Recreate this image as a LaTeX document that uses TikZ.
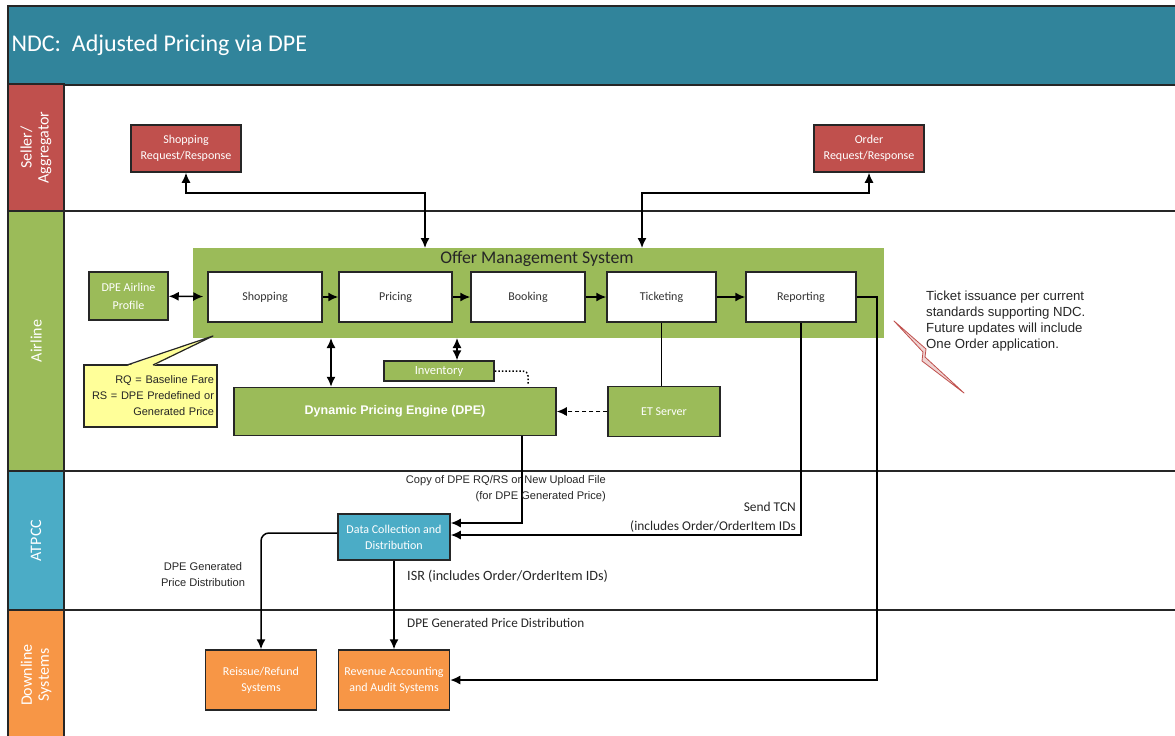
\documentclass[tikz,border=0pt]{standalone}
\usepackage{fontspec}
\setmainfont{Carlito}
\newfontfamily\arialfont{Liberation Sans}
\usepackage{tikz}
\usetikzlibrary{positioning}
\usetikzlibrary{arrows.meta}
\definecolor{ndcteal}{HTML}{31849B}
\definecolor{ndcred}{HTML}{C0504D}
\definecolor{ndcgreen}{HTML}{9BBB59}
\definecolor{ndcblue}{HTML}{4BACC6}
\definecolor{ndcorange}{HTML}{F79646}
\definecolor{ndcyellow}{HTML}{FFFF99}
\definecolor{ndcedge}{HTML}{262626}

\begin{document}
\begin{tikzpicture}[x=1pt,y=-1pt,>={Latex[length=10pt,width=9pt]},
  lanehead/.style={draw=ndcedge,line width=1.5pt,fill=#1,rotate=90,minimum height=56pt,
    text=white,align=center,inner sep=0pt,font=\fontsize{16}{17}\selectfont},
  sysbox/.style={draw=ndcedge,line width=1.5pt,fill=#1,text=white,align=center,
    inner sep=0pt,font=\fontsize{12}{16}\selectfont},
  procbox/.style={draw=ndcedge,line width=1.5pt,fill=white,text=black!80,minimum height=50pt,
    inner sep=0pt,font=\fontsize{12}{14}\selectfont},
  laneline/.style={line width=2pt,ndcedge},
  flow/.style={line width=1.5pt,black},
  lbl/.style={inner sep=0pt,text=black!85,font=\fontsize{13.4}{19}\selectfont},
  arlbl/.style={inner sep=0pt,text=black!85,font=\arialfont\fontsize{11.1}{16}\selectfont}]
\useasboundingbox (0,0) rectangle (1175,736);
\clip (0,0) rectangle (1175,736);

% title and lanes
\node[draw=ndcedge,line width=1.5pt,fill=ndcteal,anchor=north west,inner sep=0pt,
  minimum width=1175pt,minimum height=79pt] (titlebar) at (7,5) {};
\node[anchor=west,text=white,font=\fontsize{24}{26}\selectfont] (title) at (8,45) {NDC:\ \ Adjusted Pricing via DPE};

\node[lanehead=ndcred,minimum width=127pt] (seller) at (36,147.5) {Seller/\\Aggregator};
\node[lanehead=ndcgreen,minimum width=260pt] (airline) at (36,341) {Airline};
\node[lanehead=ndcblue,minimum width=139pt] (atpcc) at (36,540.5) {ATPCC};
\node[lanehead=ndcorange,minimum width=130pt] (downline) at (36,675) {Downline\\Systems};
\draw[laneline] (64,211) -- (1180,211);
\draw[laneline] (64,471) -- (1180,471);
\draw[laneline] (64,610) -- (1180,610);

% seller / aggregator
\node[sysbox=ndcred,minimum width=110pt,minimum height=47pt] (shopRR) at (186,148.5) {Shopping\\Request/Response};
\node[sysbox=ndcred,minimum width=110pt,minimum height=47pt] (orderRR) at (869,148.5) {Order\\Request/Response};

% airline
\node[fill=ndcgreen,minimum width=691pt,minimum height=90pt,inner sep=0pt] (oms) at (538.5,293) {};
\node[font=\fontsize{17.8}{20}\selectfont,text=black!85] (omsTitle) at (537,259) {Offer Management System};
\node[procbox,minimum width=114pt] (shopping) at (265,297) {Shopping};
\node[procbox,minimum width=113pt] (pricing) at (395.5,297) {Pricing};
\node[procbox,minimum width=114pt] (booking) at (528,297) {Booking};
\node[procbox,minimum width=109pt] (ticketing) at (661.5,297) {Ticketing};
\node[procbox,minimum width=110pt] (reporting) at (801,297) {Reporting};
\node[sysbox=ndcgreen,minimum width=79pt,minimum height=48pt,font=\fontsize{12}{18}\selectfont] (profile) at (128.5,296) {DPE Airline\\Profile};
\node[sysbox=ndcgreen,minimum width=110pt,minimum height=20pt,font=\fontsize{12.5}{14}\selectfont] (inventory) at (439,371) {Inventory};
\node[sysbox=ndcgreen,minimum width=322pt,minimum height=48pt,font=\arialfont\bfseries\fontsize{12.5}{14}\selectfont] (dpe) at (395,411.5) {Dynamic Pricing Engine (DPE)};
\node[sysbox=ndcgreen,minimum width=112pt,minimum height=50pt] (etserver) at (664,411.5) {ET Server};

\node[draw=ndcedge,line width=1.2pt,fill=ndcyellow,text width=127pt,align=right,inner sep=3pt,
  minimum height=62pt,text=black!85,font=\arialfont\fontsize{11}{16}\selectfont] (rqNote) at (150.5,396)
  {RQ = Baseline Fare\\RS = DPE Predefined or\\Generated Price};
\fill[ndcyellow] (127,366) -- (213,336) -- (153,366) -- cycle;
\draw[line width=1.2pt,ndcedge,line join=round] (127,365) -- (213,336) -- (153,365);

\node[anchor=north west,align=left,inner sep=0pt,text=black!85,
  font=\arialfont\fontsize{13.2}{16}\selectfont] (ticketNote) at (926,291)
  {Ticket issuance per current\\standards supporting NDC.\\Future updates will include\\One Order application.};
\draw[ndcred,fill=ndcred!25,line width=0.8pt,line join=round] (894,321) -- (926,349) -- (925,357) -- (964,393) -- (922,361) -- (923,352) -- cycle;

% atpcc and downline
\node[sysbox=ndcblue,minimum width=112pt,minimum height=46pt] (dc) at (394,537) {Data Collection and\\Distribution};
\node[sysbox=ndcorange,minimum width=111pt,minimum height=60pt] (reissue) at (261,680) {Reissue/Refund\\Systems};
\node[sysbox=ndcorange,minimum width=111pt,minimum height=60pt] (revenue) at (394,680) {Revenue Accounting\\and Audit Systems};

\coordinate (omsShopIn) at (425,248);
\coordinate (omsOrderIn) at (642,248);
\coordinate (omsDpe) at (331,338);
\coordinate (omsInv) at (457,338);
\coordinate (invDrop) at (528,384);
\coordinate (dpeOut) at (522,435.5);

\draw[flow,<->] (shopRR.south) -- ++(0,20) -| (omsShopIn);
\draw[flow,<->] (orderRR.south) -- ++(0,20) -| (omsOrderIn);
\draw[flow,<->,shorten >=4pt] (profile) -- (shopping);
\draw[flow,->] (shopping) -- (pricing);
\draw[flow,->] (pricing) -- (booking);
\draw[flow,->] (booking) -- (ticketing);
\draw[flow,->] (ticketing) -- (reporting);
\draw[flow,<->] (omsDpe) -- (omsDpe |- dpe.north);
\draw[flow,<->] (omsInv) -- (omsInv |- inventory.north);
\draw[line width=1.5pt,dash pattern=on 1.5pt off 2pt,rounded corners=5pt] (inventory.east) -| (invDrop);
\draw[flow,->,dash pattern=on 4pt off 3pt] (etserver) -- (dpe);
\draw[flow] (ticketing.south) -- (ticketing.south |- etserver.north);
\draw[flow,->] (dpeOut) |- ([yshift=14pt]dc.east);
\draw[flow,->] (reporting.south) |- ([yshift=2pt]dc.east);
\draw[flow,->] (reporting.east) -- ++(20,0) |- (revenue.east);
\draw[flow,->,rounded corners=8pt] ([yshift=4pt]dc.west) -| (reissue.north);
\draw[flow,->] (dc.south) -- (revenue.north);

\node[arlbl,anchor=east,align=right] (copyLbl) at (606,489) {Copy of DPE RQ/RS or New Upload File\\(for DPE Generated Price)};
\node[lbl,anchor=east,align=right] (tcnLbl) at (796,517) {Send TCN\\(includes Order/OrderItem IDs};
\node[arlbl,align=center] (distLbl) at (203,575) {DPE Generated\\Price Distribution};
\node[lbl,anchor=west,font=\fontsize{14.2}{16}\selectfont] (isrLbl) at (407,576) {ISR (includes Order/OrderItem IDs)};
\node[lbl,anchor=west,font=\fontsize{13.2}{15}\selectfont] (priceLbl) at (407,623) {DPE Generated Price Distribution};
\end{tikzpicture}
\end{document}
